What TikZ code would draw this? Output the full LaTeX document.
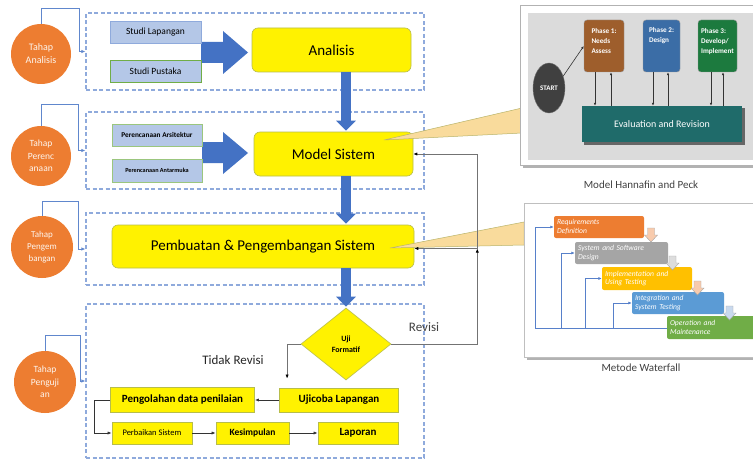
\documentclass[tikz,border=0pt]{standalone}
\usepackage{fontspec}
\setmainfont{Carlito}
\usetikzlibrary{shapes.geometric,arrows.meta,calc}
\definecolor{dashblue}{HTML}{8FAADC}
\definecolor{arrblue}{HTML}{4472C4}
\definecolor{torange}{HTML}{ED7D31}
\definecolor{lblue}{HTML}{B4C7E7}
\definecolor{pgreen}{HTML}{70AD47}
\definecolor{ybord}{HTML}{B7BD4B}
\definecolor{wedgec}{HTML}{F9DB9C}
\definecolor{wedgeb}{HTML}{B9B46A}
\definecolor{hbrown}{HTML}{9E5E2C}
\definecolor{hblue}{HTML}{3B6DA6}
\definecolor{hgreen}{HTML}{1C7A3E}
\definecolor{hteal}{HTML}{1F6B6A}
\definecolor{wgray}{HTML}{A5A5A5}
\definecolor{wgold}{HTML}{FFC000}
\definecolor{wblue}{HTML}{5B9BD5}
\definecolor{wpeach}{HTML}{F8CBAD}
\definecolor{wpale}{HTML}{DDDDDD}
\definecolor{wpblue}{HTML}{C9D9EE}
\newcommand\wfArrow[3]{\filldraw[fill=#3,draw=gray!70,line width=0.4pt] (#1-3.5,#2) -- ++(7,0) -- ++(0,7) -- ++(3,0) -- ++(-6.5,7) -- ++(-6.5,-7) -- ++(3,0) -- cycle;}
\begin{document}
\begin{tikzpicture}[x=1pt,y=-1pt,
  dbox/.style={rectangle,draw=dashblue,dash pattern=on 4pt off 2.5pt,line width=1.2pt,inner sep=0pt},
  ybox/.style={rectangle,rounded corners=6pt,fill=yellow,draw=ybord,line width=0.6pt,inner sep=0pt},
  ysq/.style={rectangle,fill=yellow,draw=ybord,line width=0.8pt,inner sep=0pt},
  tahap/.style={circle,fill=torange,text=white!92!torange,inner sep=0pt,align=center},
  sbox/.style={rectangle,fill=lblue,draw=#1,line width=0.6pt,inner sep=0pt},
  lconn/.style={draw=arrblue!85,line width=0.7pt,-{Latex[length=4pt,width=3.5pt]}},
  bigdown/.style={draw=arrblue,line width=10pt,-{Triangle[width=19pt,length=10pt]}},
  gline/.style={draw=black!55,line width=0.7pt,-{Latex[length=4pt,width=3.2pt,color=black]}},
  bline/.style={draw=black!80,line width=0.7pt,-{Latex[length=4pt,width=3.2pt]}},
  harr/.style={draw=black!80,line width=0.6pt,-{Latex[length=3pt,width=2.6pt]}},
  phase/.style={rectangle,rounded corners=3pt,fill=#1,draw=black!40,inner sep=0pt,text=white,align=left,font=\bfseries\fontsize{7.2}{10}\selectfont},
  wfbox/.style={rectangle,rounded corners=2pt,fill=#1,inner sep=3pt,text=white,align=left,font=\itshape\fontsize{7.6}{8.8}\selectfont},
  wfline/.style={draw=arrblue!90,line width=0.6pt},
  captext/.style={text=black!75,font=\fontsize{11}{13}\selectfont}
]
\useasboundingbox (0,0) rectangle (753,460);
\fill[white] (0,0) rectangle (753,460);

% dashed groups
\node[dbox,minimum width=338pt,minimum height=77pt] (g1) at (255,51.5) {};
\node[dbox,minimum width=338pt,minimum height=77pt] (g2) at (255,150.5) {};
\node[dbox,minimum width=338pt,minimum height=72pt] (g3) at (255,249) {};
\node[dbox,minimum width=338pt,minimum height=154pt] (g4) at (255,381) {};

% tahap circles
\node[tahap,minimum size=60pt,font=\fontsize{10}{13}\selectfont] (t1) at (41,54) {Tahap\\Analisis};
\node[tahap,minimum size=60pt,font=\fontsize{9.5}{12.5}\selectfont] (t2) at (41,156) {Tahap\\Perenc\\anaan};
\node[tahap,minimum size=62pt,font=\fontsize{9}{12}\selectfont] (t3) at (42,247) {Tahap\\Pengem\\bangan};
\node[tahap,minimum size=62pt,font=\fontsize{9.5}{12.5}\selectfont] (t4) at (45,382) {Tahap\\Penguji\\an};
\draw[lconn] (t1.north) |- (79,8) |- (g1.west);
\draw[lconn] (t2.north) |- (78,104) |- (g2.west);
\draw[lconn] (t3.north) |- (78,201) |- (g3.west);
\draw[lconn] (t4.north) |- (80,335) |- (g4.west);

% big side arrows
\fill[arrblue] (201,42) -- (223,42) -- (223,31) -- (248,52.5) -- (223,74) -- (223,63) -- (201,63) -- cycle;
\fill[arrblue] (202,142) -- (223,142) -- (223,132) -- (248,153) -- (223,174) -- (223,163) -- (202,163) -- cycle;

% small blue boxes
\node[sbox=dashblue,minimum width=91pt,minimum height=22pt,font=\fontsize{9.5}{11}\selectfont] (sl) at (155.5,32) {Studi Lapangan};
\node[sbox=pgreen,minimum width=91pt,minimum height=22pt,font=\fontsize{9.5}{11}\selectfont] (sp) at (155.5,71) {Studi Pustaka};
\node[sbox=pgreen!70,minimum width=90pt,minimum height=22pt,font=\bfseries\fontsize{7.3}{9}\selectfont] (pa) at (157,135) {Perencanaan Arsitektur};
\node[sbox=pgreen!70,minimum width=90pt,minimum height=23pt,font=\bfseries\fontsize{6.2}{8}\selectfont] (pm) at (157,170.5) {Perencanaan Antarmuka};

% main yellow boxes
\node[ybox,minimum width=159pt,minimum height=44pt,font=\fontsize{15}{18}\selectfont] (ana) at (331.5,50) {Analisis};
\node[ybox,minimum width=159pt,minimum height=44pt,font=\fontsize{15}{18}\selectfont] (model) at (333.5,154) {Model Sistem};
\node[ybox,minimum width=302pt,minimum height=43pt,font=\fontsize{15}{18}\selectfont] (pemb) at (263,246.5) {Pembuatan \& Pengembangan Sistem};
\node[diamond,fill=yellow,draw=ybord,line width=0.6pt,minimum width=90pt,minimum height=72pt,inner sep=0pt,align=center,font=\bfseries\fontsize{8}{11}\selectfont] (dia) at (346,344) {Uji\\Formatif};

% vertical blue arrows
\draw[bigdown] (ana.south -| dia.north) -- ([yshift=1pt]model.north -| dia.north);
\draw[bigdown] (model.south -| dia.north) -- ([yshift=1pt]pemb.north -| dia.north);
\draw[bigdown] (pemb.south -| dia.north) -- ([yshift=1pt]dia.north);

% bottom boxes
\node[ysq,minimum width=119pt,minimum height=24pt,font=\bfseries\fontsize{11}{13}\selectfont] (uji) at (339,400) {Ujicoba Lapangan};
\node[ysq,minimum width=144pt,minimum height=25pt,font=\bfseries\fontsize{11}{13}\selectfont] (peng) at (182.5,400) {Pengolahan data penilaian};
\node[ysq,minimum width=80pt,minimum height=22pt,font=\fontsize{8.5}{10}\selectfont] (perb) at (152,433) {Perbaikan Sistem};
\node[ysq,minimum width=73pt,minimum height=22pt,font=\bfseries\fontsize{9.5}{11}\selectfont] (kes) at (252.5,433) {Kesimpulan};
\node[ysq,minimum width=80pt,minimum height=22pt,font=\bfseries\fontsize{11}{13}\selectfont] (lap) at (358,433) {Laporan};
\draw[bline] (uji.west) -- (peng.east);
\draw[bline] (peng.west) -- ++(-16,0) |- (perb.west);
\draw[bline] (perb.east) -- (kes.west);
\draw[bline] (kes.east) -- (lap.west);

% callout wedges
\filldraw[fill=wedgec,draw=wedgeb,line width=0.5pt] (384,140) -- (522,108) -- (522,133) -- cycle;
\filldraw[fill=wedgec,draw=wedgeb,line width=0.5pt] (390,248) -- (524,222) -- (524,245) -- cycle;

% revisi lines
\coordinate (rv) at ($(pemb.east)+(63,2)$);
\draw[gline] (dia.east) -| (rv);
\draw[gline] (rv) -- (pemb.east |- rv);
\draw[gline] (rv) |- (model.east);
\draw[gline] (dia.west) -| ($(uji.north west)+(8,-9)$);
\node[text=black!75,font=\fontsize{13}{15}\selectfont] (revlab) at (424,327) {Revisi};
\node[text=black!85,font=\fontsize{13}{15}\selectfont] (tidak) at (233,360) {Tidak Revisi};

% Hannafin and Peck picture
\fill[black!30] (523,8) rectangle (760,168);
\filldraw[fill=white,draw=black!30,line width=0.5pt] (520,5) rectangle (760,165);
\fill[black!14] (528,13) rectangle (753,160);
\fill[black!60] (584,108) rectangle (745,145);
\node[rectangle,fill=hteal,minimum width=160pt,minimum height=36pt,inner sep=0pt,text=white,font=\fontsize{10}{12}\selectfont] (eval) at (662,124) {Evaluation and Revision};
\node[ellipse,fill=black!75,draw=black!55,minimum width=32pt,minimum height=50pt,inner sep=0pt,text=white,font=\bfseries\fontsize{7}{8}\selectfont] (start) at (549,88) {START};
\node[phase=hbrown,minimum width=40pt,minimum height=52pt] (ph1) at (604,46) {Phase 1:\\Needs\\Assess\\[1pt]};
\node[phase=hblue,minimum width=37pt,minimum height=52pt] (ph2) at (661.5,46) {Phase 2:\\Design\\[12pt]};
\node[phase=hgreen,minimum width=39pt,minimum height=52pt] (ph3) at (717.5,46) {Phase 3:\\Develop/\\Implement\\[1pt]};
\draw[harr] (start.40) -- (ph1.west);
\draw[harr] (ph1.south -| 595,0) -- (eval.north -| 595,0);
\draw[harr] (eval.north -| 611,0) -- (ph1.south -| 611,0);
\draw[harr] (ph2.south -| 653,0) -- (eval.north -| 653,0);
\draw[harr] (eval.north -| 668,0) -- (ph2.south -| 668,0);
\draw[harr] (ph3.south -| 711,0) -- (eval.north -| 711,0);
\draw[harr] (eval.north -| 723,0) -- (ph3.south -| 723,0);
\node[captext] (cap1) at (641,185) {Model Hannafin and Peck};

% Waterfall picture
\fill[black!30] (527,206) rectangle (760,360);
\filldraw[fill=white,draw=black!25,line width=0.5pt] (524,203) rectangle (760,357);
\node[wfbox=torange,text width=84pt,minimum height=22pt] (req) at (599,227) {Requirements\\Definition};
\node[wfbox=wgray,text width=87pt,minimum height=22pt] (sys) at (621.5,253) {System and Software\\Design};
\node[wfbox=wgold,text width=84pt,minimum height=23pt] (imp) at (647,278.5) {Implementation and\\Using Testing};
\node[wfbox=wblue,text width=86pt,minimum height=22pt] (int) at (678,303) {Integration and\\System Testing};
\node[wfbox=pgreen,text width=87pt,minimum height=23pt] (ope) at (713.5,327.5) {Operation and\\Maintenance};
\wfArrow{651}{228}{wpeach}
\wfArrow{672.5}{256}{wpale}
\wfArrow{697.5}{281}{wpeach}
\wfArrow{729.5}{306}{wpblue}
\coordinate (fb1) at (535,328);
\coordinate (fb2) at (561,328);
\coordinate (fb3) at (585,328);
\coordinate (fb4) at (613,328);
\draw[wfline] (ope.west |- fb1) -- (fb1);
\draw[wfline,-{Latex[length=3.5pt,width=3pt]}] (fb1) |- (req.west);
\draw[wfline,-{Latex[length=3.5pt,width=3pt]}] (fb2) |- (sys.west);
\draw[wfline,-{Latex[length=3.5pt,width=3pt]}] (fb3) |- (imp.west);
\draw[wfline,-{Latex[length=3.5pt,width=3pt]}] (fb4) |- (int.west);
\node[captext] (cap2) at (641,368) {Metode Waterfall};
\end{tikzpicture}
\end{document}
